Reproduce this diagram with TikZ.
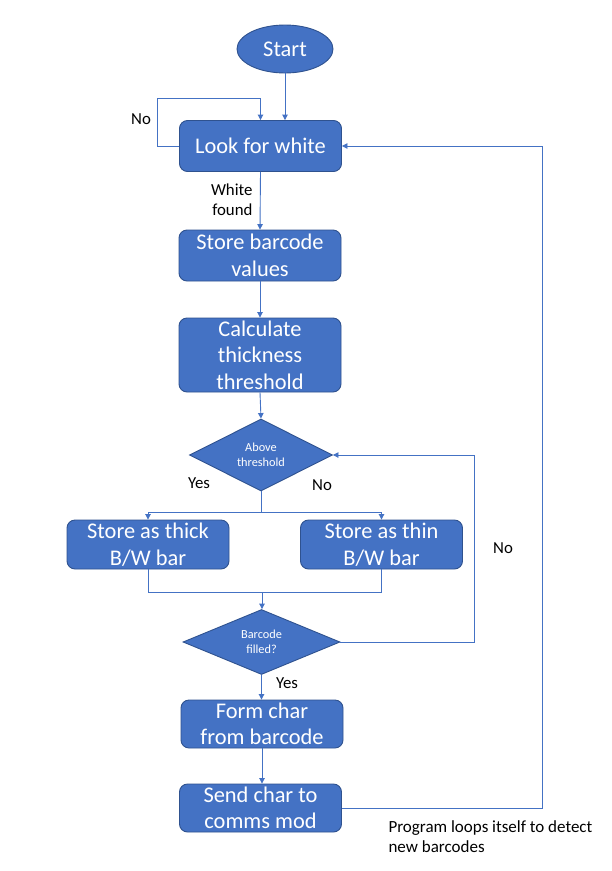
\documentclass[tikz,border=0pt]{standalone}
\usepackage{fontspec}
\setmainfont{Carlito}
\usepackage{tikz}
\usetikzlibrary{positioning,calc,arrows.meta,shapes.geometric}
\usepackage{xcolor}
\definecolor{boxblue}{HTML}{4472C4}
\definecolor{edgeblue}{HTML}{2F528F}

\begin{document}
\begin{tikzpicture}[x=1pt,y=-1pt,
    procbox/.style={rectangle,rounded corners=8pt,draw=edgeblue,line width=0.9pt,fill=boxblue,
        text=white,align=center,minimum width=162pt,inner sep=2pt,font=\fontsize{22.4}{26.5}\selectfont},
    decide/.style={diamond,draw=edgeblue,line width=0.9pt,fill=boxblue,text=white,align=center,
        inner sep=0pt,font=\fontsize{12.3}{15.5}\selectfont},
    flow/.style={draw=boxblue,line width=0.9pt},
    tip/.style={-{Triangle[width=5.5pt,length=5.5pt]}},
    lbl/.style={font=\fontsize{16.8}{20}\selectfont}]

\useasboundingbox[fill=white] (0,0) rectangle (612,871);

% Main column
\node[ellipse,draw=edgeblue,line width=0.9pt,fill=boxblue,text=white,minimum width=96pt,minimum height=48pt,
    inner sep=0pt,font=\fontsize{22.4}{26}\selectfont] (start) at (285,49) {Start};
\node[procbox,minimum height=51pt] (look) at (260.5,146) {Look for white};
\node[procbox,minimum height=51pt] (store) at (260,255.5) {Store barcode\\values};
\node[procbox,minimum height=74pt] (calc) at (260,355) {Calculate\\thickness\\threshold};
\node[decide,minimum width=143pt,minimum height=44pt] (above) at (261,455) {Above\\threshold};
\node[procbox,minimum height=49pt] (thick) at (148,544.5) {Store as thick\\B/W bar};
\node[procbox,minimum height=49pt] (thin) at (381.5,544.5) {Store as thin\\B/W bar};
\node[decide,minimum width=157pt,minimum height=54pt] (filled) at (261.5,642) {Barcode\\filled?};
\node[procbox,minimum height=48pt] (form) at (262,724) {Form char\\from barcode};
\node[procbox,minimum height=48pt] (send) at (260.5,808) {Send char to\\comms mod};

% Connectors
\draw[flow,tip] (start.south) -- (start.south |- look.north);
\draw[flow,tip] (look.west) -- ++(-22,0) |- ([yshift=22pt]look.north) -- (look.north);
\draw[flow,tip] (look.south) -- (store.north);
\draw[flow,tip] (store.south) -- (calc.north);
\draw[flow,tip] (calc.south) -- (above.north);
\draw[flow] (above.south) -- ++(0,21) coordinate (split);
\draw[flow,tip] (split) -| (thick.north);
\draw[flow,tip] (split) -| (thin.north);
\coordinate (merge) at (262,592);
\draw[flow] (thick.south) |- (merge);
\draw[flow] (thin.south) |- (merge);
\draw[flow,tip] (merge) -- (merge |- filled.north);
\draw[flow,tip] (filled.east) -- ++(134,0) |- (above.east);
\draw[flow,tip] (filled.south) -- (filled.south |- form.north);
\draw[flow,tip] (form.south) -- (form.south |- send.north);
\draw[flow,tip] (send.east) -- ++(200,0) |- (look.east);

% Labels
\node[lbl] (nolook) at (141,119) {No};
\node[lbl,align=right,anchor=east] (white) at (256,200) {White\\found};
\node[lbl] (yes1) at (199,483) {Yes};
\node[lbl] (no1) at (322,485) {No};
\node[lbl] (no2) at (503,548) {No};
\node[lbl] (yes2) at (287,683) {Yes};
\node[lbl,align=left,anchor=north west,font=\fontsize{17}{20}\selectfont] (note) at (385,817)
    {Program loops itself to detect\\new barcodes};

\end{tikzpicture}
\end{document}
